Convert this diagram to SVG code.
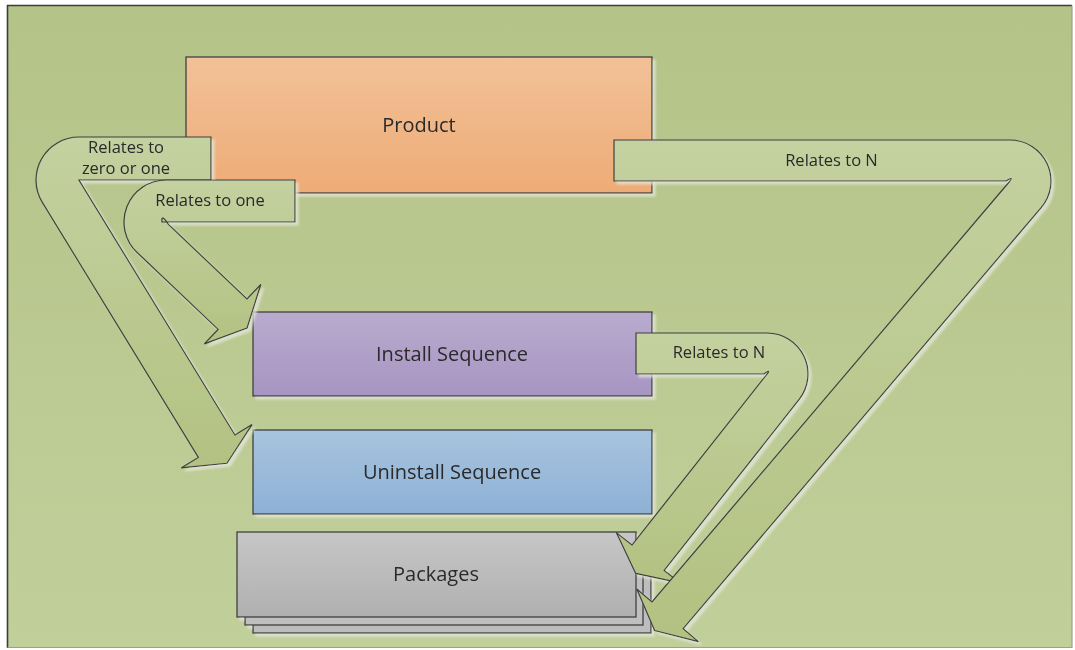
<svg xmlns="http://www.w3.org/2000/svg" width="1075" height="650" viewBox="0 0 1075 650">
  <defs>
    <linearGradient id="bg" x1="0" y1="0" x2="0" y2="1">
      <stop offset="0" stop-color="#b4c387"/>
      <stop offset="1" stop-color="#c1cf9b"/>
    </linearGradient>
    <linearGradient id="gProduct" x1="0" y1="0" x2="0" y2="1">
      <stop offset="0" stop-color="#f2c198"/>
      <stop offset="1" stop-color="#eeab76"/>
    </linearGradient>
    <linearGradient id="gInstall" x1="0" y1="0" x2="0" y2="1">
      <stop offset="0" stop-color="#b9abce"/>
      <stop offset="1" stop-color="#a795c2"/>
    </linearGradient>
    <linearGradient id="gUninstall" x1="0" y1="0" x2="0" y2="1">
      <stop offset="0" stop-color="#a8c4df"/>
      <stop offset="1" stop-color="#8db1d5"/>
    </linearGradient>
    <linearGradient id="gPackages" x1="0" y1="0" x2="0" y2="1">
      <stop offset="0" stop-color="#c6c6c6"/>
      <stop offset="1" stop-color="#b0b0b0"/>
    </linearGradient>
    <linearGradient id="gArrow" x1="0" y1="0" x2="0" y2="1">
      <stop offset="0" stop-color="#c4d1a0"/>
      <stop offset="1" stop-color="#b3c282"/>
    </linearGradient>
    <filter id="sh" x="-5%" y="-5%" width="115%" height="115%">
      <feGaussianBlur in="SourceAlpha" stdDeviation="1.2"/>
      <feOffset dx="2.5" dy="2.5" result="b"/>
      <feFlood flood-color="#e4e7da" flood-opacity="0.75"/>
      <feComposite in2="b" operator="in"/>
      <feMerge><feMergeNode/><feMergeNode in="SourceGraphic"/></feMerge>
    </filter>
    <style>
      .box { stroke: #404040; stroke-width: 1.3; }
      .arrow { fill: url(#gArrow); stroke: #3f3f3f; stroke-width: 1.2; stroke-linejoin: miter; }
      .big { font-family: "Open Sans", "Liberation Sans", sans-serif; font-size: 20px; fill: #2a2a2a; text-anchor: middle; }
      .small { font-family: "Open Sans", "Liberation Sans", sans-serif; font-size: 16.5px; fill: #2a2a2a; text-anchor: middle; }
    </style>
  </defs>

  <!-- page background and frame -->
  <rect x="0" y="0" width="1075" height="650" fill="#ffffff"/>
  <rect x="7" y="5" width="1065" height="643" fill="url(#bg)"/>
  <path d="M 7.5,648 V 5.5 H 1072" fill="none" stroke="#3c3c3c" stroke-width="1.6"/>
  <path d="M 1072,5.5 V 647.5 H 7.5" fill="none" stroke="#9ba28a" stroke-width="1.2"/>

  <!-- nodes -->
  <g id="product" filter="url(#sh)">
    <rect class="box" x="186" y="57" width="466" height="136" fill="url(#gProduct)"/>
    <text class="big" x="419" y="131.5">Product</text>
  </g>

  <g id="install-sequence" filter="url(#sh)">
    <rect class="box" x="253" y="312" width="399" height="84" fill="url(#gInstall)"/>
    <text class="big" x="452" y="360.5">Install Sequence</text>
  </g>

  <g id="uninstall-sequence" filter="url(#sh)">
    <rect class="box" x="253" y="430" width="399" height="84" fill="url(#gUninstall)"/>
    <text class="big" x="452" y="479">Uninstall Sequence</text>
  </g>

  <g id="packages" filter="url(#sh)">
    <rect class="box" x="253" y="548" width="398" height="85" fill="#bdbdbd"/>
    <rect class="box" x="245" y="540" width="398" height="85" fill="#bfbfbf"/>
    <rect class="box" x="237" y="532" width="399" height="85" fill="url(#gPackages)"/>
    <text class="big" x="436" y="580.5">Packages</text>
  </g>

  <!-- connectors: bent block arrows with their labels -->
  <g id="connectors" filter="url(#sh)">
    <!-- Product to Uninstall Sequence -->
    <g id="rel-zero-or-one">
      <path class="arrow" d="M 211,137 H 79 A 43 43 0 0 0 42.3,202.4 L 198.3,457.4 L 181.2,467.9 L 227,463.3 L 252,424.6 L 235,435 L 79,180 H 211 Z"/>
      <text class="small" x="126" y="152.5">Relates to</text>
      <text class="small" x="126" y="174">zero or one</text>
    </g>
    <!-- Product to Install Sequence -->
    <g id="rel-one">
      <path class="arrow" d="M 295,180 H 166 A 42 42 0 0 0 137.1,252.5 L 218.1,329.4 L 204.3,343.9 L 247.1,328 L 260.8,284.5 L 247,299 L 168.5,224.4 Q 161,213 162,222 H 295 Z"/>
      <text class="small" x="210" y="205.5">Relates to one</text>
    </g>
    <!-- Install Sequence to Packages -->
    <g id="rel-n-install">
      <path class="arrow" d="M 636,333 H 767 A 41 41 0 0 1 799.2,399.4 L 664.2,570.4 L 679.9,582.8 L 635.7,573.4 L 616.3,532.6 L 632,545 L 765.9,375.5 Q 772,368 764,374 H 636 Z"/>
      <text class="small" x="719" y="358">Relates to N</text>
    </g>
    <!-- Product to Packages -->
    <g id="rel-n-product">
      <path class="arrow" d="M 614,140 H 1010 A 41 41 0 0 1 1041.2,207.6 L 683.2,628.6 L 698.4,641.6 L 654.6,630.5 L 636.8,589 L 652,602 L 1008.3,183 Q 1015,175 1006,181 H 614 Z"/>
      <text class="small" x="831.5" y="165.5">Relates to N</text>
    </g>
  </g>
</svg>
